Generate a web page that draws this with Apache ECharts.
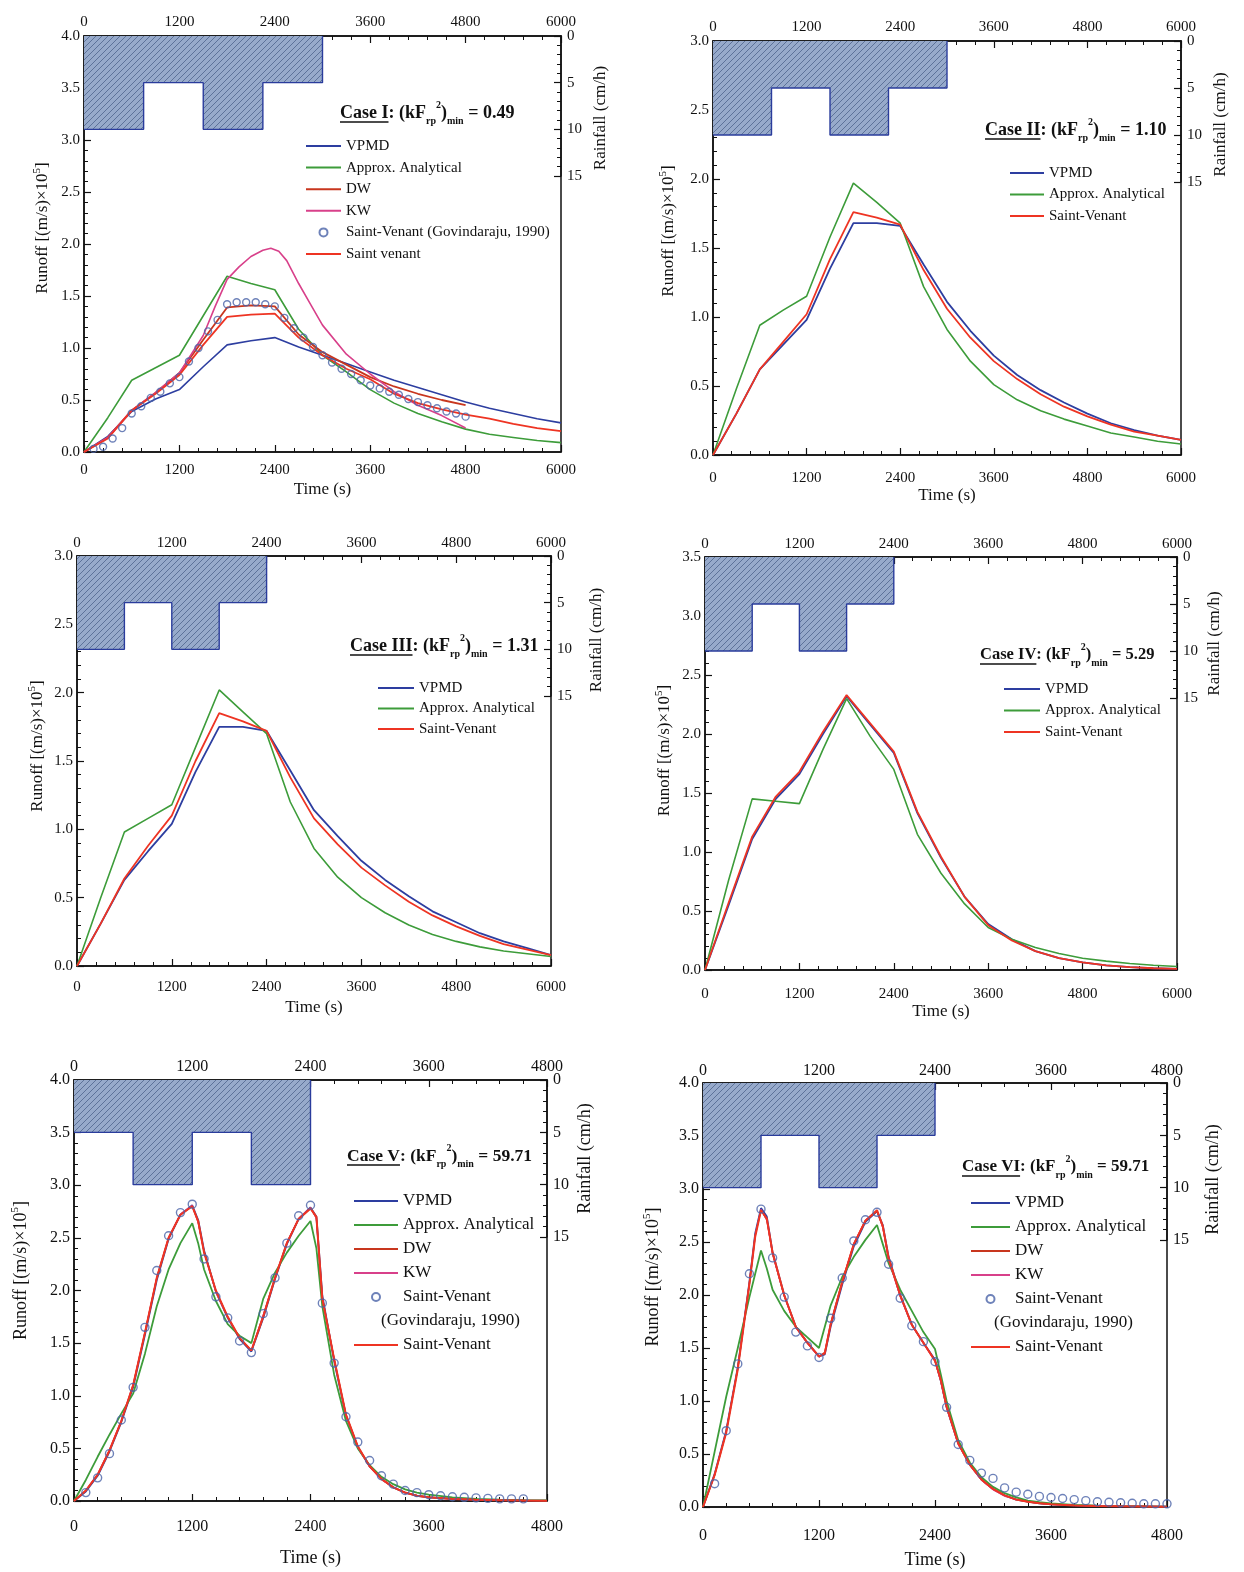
<!DOCTYPE html>
<html>
<head>
<meta charset="utf-8">
<script src="https://cdn.jsdelivr.net/npm/echarts/dist/echarts.min.js"></script>
<style>
html,body{margin:0;padding:0;background:#fff}
#chart{width:1244px;height:1572px}
</style>
</head>
<body>
<div id="chart"></div>
<script>
// ---------- rainfall hyetographs (time s, intensity cm/h; last entry closes the block) ----------
const rainTimeI   = [0, 750, 1500, 2250, 3000];
const rainRateI   = [10, 5, 10, 5, 0];
const rainTimeII  = [0, 750, 1500, 2250, 3000];
const rainRateII  = [10, 5, 10, 5, 0];
const rainTimeIII = [0, 600, 1200, 1800, 2400];
const rainRateIII = [10, 5, 10, 5, 0];
const rainTimeIV  = [0, 600, 1200, 1800, 2400];
const rainRateIV  = [10, 5, 10, 5, 0];
const rainTimeV   = [0, 600, 1200, 1800, 2400];
const rainRateV   = [5, 10, 5, 10, 0];
const rainTimeVI  = [0, 600, 1200, 1800, 2400];
const rainRateVI  = [10, 5, 10, 5, 0];

// ---------- time grids (s) ----------
const time6000 = [0,300,600,900,1200,1500,1800,2100,2400,2700,3000,3300,3600,3900,4200,4500,4800,5100,5400,5700,6000];
const time4800short = [0,300,600,900,1200,1500,1800,2100,2400,2700,3000,3300,3600,3900,4200,4500,4800];
const timeKW_I = [0,300,600,900,1200,1500,1650,1800,1950,2100,2250,2350,2450,2550,2700,2850,3000,3300,3600,3900,4200,4500,4800];
const timeV  = [0,120,240,360,480,600,720,840,960,1080,1200,1260,1320,1440,1560,1680,1800,1920,2040,2160,2280,2400,2460,2520,2640,2760,2880,3000,3120,3240,3360,3480,3600,3840,4080,4320,4560,4800];
const timeVI = [0,120,240,360,480,540,600,660,720,840,960,1080,1200,1260,1320,1440,1560,1680,1800,1860,1920,2040,2160,2280,2400,2460,2520,2640,2760,2880,3000,3120,3240,3360,3480,3600,3840,4080,4320,4560,4800];
const timeGovI  = [120,240,360,480,600,720,840,960,1080,1200,1320,1440,1560,1680,1800,1920,2040,2160,2280,2400,2520,2640,2760,2880,3000,3120,3240,3360,3480,3600,3720,3840,3960,4080,4200,4320,4440,4560,4680,4800];
const timeGovV  = [120,240,360,480,600,720,840,960,1080,1200,1320,1440,1560,1680,1800,1920,2040,2160,2280,2400,2520,2640,2760,2880,3000,3120,3240,3360,3480,3600,3720,3840,3960,4080,4200,4320,4440,4560];
const timeGovVI = [120,240,360,480,600,720,840,960,1080,1200,1320,1440,1560,1680,1800,1920,2040,2160,2280,2400,2520,2640,2760,2880,3000,3120,3240,3360,3480,3600,3720,3840,3960,4080,4200,4320,4440,4560,4680,4800];

// ---------- Case I runoff [(m/s)x10^5] ----------
const I_vpmd   = [0,0.15,0.39,0.51,0.60,0.82,1.03,1.07,1.10,1.01,0.93,0.85,0.77,0.69,0.62,0.55,0.48,0.42,0.37,0.32,0.28];
const I_approx = [0,0.33,0.69,0.81,0.93,1.31,1.69,1.62,1.56,1.18,0.93,0.77,0.60,0.47,0.37,0.29,0.22,0.17,0.14,0.11,0.09];
const I_dw     = [0,0.14,0.40,0.57,0.76,1.08,1.39,1.41,1.40,1.13,0.96,0.84,0.72,0.63,0.56,0.50,0.45];
const I_kw     = [0,0.14,0.40,0.57,0.76,1.12,1.40,1.66,1.78,1.88,1.94,1.96,1.93,1.84,1.62,1.42,1.22,0.94,0.75,0.58,0.45,0.35,0.23];
const I_gov    = [0.03,0.05,0.13,0.23,0.37,0.44,0.52,0.58,0.66,0.72,0.87,1.00,1.16,1.27,1.42,1.44,1.44,1.44,1.42,1.40,1.29,1.19,1.10,1.01,0.93,0.86,0.80,0.75,0.69,0.64,0.61,0.58,0.55,0.51,0.48,0.45,0.42,0.39,0.37,0.34];
const I_sv     = [0,0.13,0.40,0.56,0.74,1.03,1.30,1.32,1.33,1.10,0.93,0.80,0.70,0.56,0.47,0.41,0.36,0.32,0.27,0.23,0.20];

// ---------- Case II ----------
const II_vpmd   = [0,0.30,0.62,0.80,0.98,1.35,1.68,1.68,1.66,1.38,1.11,0.90,0.72,0.58,0.47,0.38,0.30,0.23,0.18,0.14,0.11];
const II_approx = [0,0.48,0.94,1.05,1.15,1.58,1.97,1.83,1.68,1.22,0.91,0.68,0.51,0.40,0.32,0.26,0.21,0.16,0.13,0.10,0.08];
const II_sv     = [0,0.30,0.62,0.82,1.02,1.42,1.76,1.72,1.67,1.34,1.06,0.85,0.68,0.55,0.44,0.35,0.28,0.22,0.17,0.14,0.11];

// ---------- Case III ----------
const III_vpmd   = [0,0.31,0.63,0.84,1.04,1.42,1.75,1.75,1.72,1.43,1.14,0.95,0.77,0.63,0.51,0.40,0.32,0.24,0.18,0.13,0.08];
const III_approx = [0,0.50,0.98,1.08,1.18,1.60,2.02,1.86,1.70,1.20,0.86,0.65,0.50,0.39,0.30,0.23,0.18,0.14,0.11,0.09,0.07];
const III_sv     = [0,0.31,0.64,0.88,1.10,1.50,1.85,1.79,1.72,1.38,1.08,0.89,0.72,0.59,0.47,0.37,0.29,0.22,0.16,0.12,0.08];

// ---------- Case IV ----------
const IV_vpmd   = [0,0.55,1.11,1.45,1.66,2.00,2.32,2.08,1.84,1.33,0.95,0.62,0.39,0.26,0.16,0.10,0.065,0.04,0.025,0.015,0.01];
const IV_approx = [0,0.76,1.45,1.43,1.41,1.87,2.30,1.98,1.70,1.15,0.82,0.56,0.36,0.26,0.19,0.14,0.10,0.075,0.055,0.04,0.03];
const IV_sv     = [0,0.57,1.13,1.47,1.68,2.02,2.33,2.09,1.85,1.34,0.96,0.62,0.38,0.25,0.16,0.10,0.065,0.04,0.025,0.015,0.01];

// ---------- Case V ----------
const V_vpmd   = [0,0.09,0.24,0.47,0.75,1.08,1.58,2.10,2.49,2.72,2.81,2.67,2.38,1.99,1.74,1.54,1.42,1.74,2.11,2.44,2.68,2.79,2.70,1.95,1.33,0.81,0.51,0.33,0.21,0.13,0.08,0.05,0.035,0.02,0.012,0.008,0.005,0.003];
const V_approx = [0,0.20,0.42,0.63,0.83,1.02,1.40,1.85,2.20,2.45,2.64,2.45,2.20,1.90,1.68,1.57,1.50,1.92,2.17,2.36,2.52,2.66,2.40,1.85,1.20,0.76,0.50,0.34,0.23,0.16,0.11,0.08,0.06,0.035,0.02,0.012,0.008,0.005];
const V_dw     = [0,0.10,0.25,0.48,0.76,1.10,1.60,2.12,2.50,2.72,2.80,2.65,2.37,1.99,1.75,1.55,1.43,1.76,2.12,2.45,2.68,2.78,2.69,1.93,1.35,0.82,0.52,0.33,0.21,0.13,0.08,0.05,0.035,0.02,0.012,0.008,0.005,0.003];
const V_kw     = [0,0.10,0.26,0.49,0.77,1.11,1.61,2.13,2.51,2.73,2.81,2.64,2.36,1.98,1.74,1.55,1.43,1.77,2.13,2.46,2.69,2.79,2.68,1.93,1.34,0.81,0.51,0.32,0.20,0.13,0.08,0.05,0.034,0.02,0.012,0.008,0.005,0.003];
const V_gov    = [0.08,0.22,0.45,0.77,1.08,1.65,2.19,2.52,2.74,2.82,2.30,1.94,1.74,1.52,1.41,1.78,2.12,2.45,2.71,2.81,1.88,1.31,0.80,0.56,0.385,0.24,0.16,0.10,0.08,0.06,0.05,0.04,0.035,0.03,0.025,0.02,0.02,0.02];
const V_sv     = [0,0.10,0.25,0.48,0.76,1.10,1.60,2.12,2.50,2.72,2.80,2.66,2.36,2.00,1.75,1.55,1.43,1.75,2.12,2.45,2.68,2.78,2.70,1.92,1.35,0.82,0.52,0.33,0.21,0.13,0.08,0.05,0.035,0.02,0.012,0.008,0.005,0.003];

// ---------- Case VI ----------
const VI_vpmd   = [0,0.31,0.72,1.32,2.12,2.58,2.82,2.74,2.40,2.00,1.70,1.55,1.42,1.44,1.70,2.10,2.46,2.69,2.79,2.66,2.36,2.00,1.72,1.55,1.39,1.19,0.94,0.60,0.40,0.26,0.17,0.11,0.07,0.05,0.035,0.025,0.015,0.01,0.007,0.005,0.003];
const VI_approx = [0,0.52,1.04,1.50,1.98,2.20,2.42,2.25,2.05,1.85,1.70,1.60,1.50,1.70,1.90,2.17,2.36,2.52,2.66,2.48,2.30,2.05,1.85,1.65,1.49,1.25,1.00,0.63,0.42,0.28,0.19,0.13,0.09,0.06,0.045,0.035,0.02,0.013,0.009,0.006,0.004];
const VI_dw     = [0,0.30,0.71,1.31,2.11,2.56,2.80,2.71,2.39,1.99,1.70,1.55,1.42,1.46,1.73,2.13,2.48,2.70,2.79,2.64,2.34,1.99,1.72,1.55,1.38,1.19,0.94,0.60,0.40,0.26,0.17,0.11,0.07,0.05,0.035,0.025,0.015,0.01,0.007,0.005,0.003];
const VI_kw     = [0,0.31,0.71,1.32,2.12,2.57,2.81,2.70,2.38,1.99,1.69,1.54,1.41,1.46,1.73,2.13,2.49,2.71,2.80,2.63,2.33,1.98,1.71,1.54,1.37,1.18,0.93,0.59,0.39,0.25,0.16,0.10,0.07,0.05,0.034,0.024,0.015,0.01,0.007,0.005,0.003];
const VI_gov    = [0.22,0.72,1.35,2.20,2.81,2.35,1.98,1.65,1.52,1.41,1.78,2.16,2.51,2.71,2.78,2.29,1.97,1.71,1.56,1.37,0.94,0.59,0.44,0.32,0.27,0.18,0.14,0.12,0.10,0.09,0.08,0.07,0.06,0.05,0.045,0.04,0.035,0.03,0.03,0.03];
const VI_sv     = [0,0.30,0.70,1.30,2.10,2.55,2.80,2.72,2.40,2.00,1.70,1.55,1.42,1.45,1.72,2.12,2.48,2.70,2.80,2.65,2.35,2.00,1.72,1.55,1.38,1.20,0.95,0.60,0.40,0.26,0.17,0.11,0.07,0.05,0.035,0.025,0.015,0.01,0.007,0.005,0.003];

// ---------- names / labels ----------
const caseNames = ['Case I', 'Case II', 'Case III', 'Case IV', 'Case V', 'Case VI'];
const caseValues = ['0.49', '1.10', '1.31', '5.29', '59.71', '59.71'];
const N_VPMD = 'VPMD', N_APP = 'Approx. Analytical', N_DW = 'DW', N_KW = 'KW';
const N_GOV = 'Saint-Venant (Govindaraju, 1990)', N_SV = 'Saint-Venant', N_SV1 = 'Saint venant';

const COL = { vpmd: '#2d3ea0', app: '#3d9c3a', dw: '#c8361e', kw: '#d8408a', sv: '#ee3423', gov: '#4a63a8', ink: '#111' };
const FONT = '"Liberation Serif", "Times New Roman", serif';

// hatched fill for the rainfall blocks
function hatchPattern() {
  const c = document.createElement('canvas');
  c.width = 6; c.height = 6;
  const g = c.getContext('2d');
  g.fillStyle = '#97aacb'; g.fillRect(0, 0, 6, 6);
  g.strokeStyle = '#5d7299'; g.lineWidth = 1;
  g.beginPath();
  g.moveTo(0, 6); g.lineTo(6, 0);
  g.moveTo(-3, 3); g.lineTo(3, -3);
  g.moveTo(3, 9); g.lineTo(9, 3);
  g.stroke();
  return c;
}
const HATCH = hatchPattern();

// panel layout (pixels)
const panels = [
  { left: 84,  top: 36,   width: 477, height: 416, rainH: 140, tMax: 6000, yMax: 4,   fs: 15, nfs: 17, bm: 11, tm: 6, tg: 29, lg: 30, lsh: 32, rg: 31, rsh: 24 },
  { left: 713, top: 41,   width: 468, height: 414, rainH: 141, tMax: 6000, yMax: 3,   fs: 15, nfs: 17, bm: 16, tm: 6, tg: 31, lg: 33, lsh: 34, rg: 31, rsh: 26 },
  { left: 77,  top: 556,  width: 474, height: 410, rainH: 140, tMax: 6000, yMax: 3,   fs: 15, nfs: 17, bm: 14, tm: 5, tg: 33, lg: 28, lsh: 30, rg: 37, rsh: 28 },
  { left: 705, top: 557,  width: 472, height: 413, rainH: 141, tMax: 6000, yMax: 3.5, fs: 15, nfs: 17, bm: 17, tm: 5, tg: 33, lg: 29, lsh: 26, rg: 29, rsh: 32 },
  { left: 74,  top: 1080, width: 473, height: 421, rainH: 157, tMax: 4800, yMax: 4,   fs: 16, nfs: 18, bm: 18, tm: 5, tg: 48, lg: 42, lsh: 40, rg: 29, rsh: 0 },
  { left: 703, top: 1083, width: 464, height: 424, rainH: 157, tMax: 4800, yMax: 4,   fs: 16, nfs: 18, bm: 21, tm: 4, tg: 44, lg: 39, lsh: 36, rg: 37, rsh: 36 }
];

const rainData = [
  [rainTimeI, rainRateI], [rainTimeII, rainRateII], [rainTimeIII, rainRateIII],
  [rainTimeIV, rainRateIV], [rainTimeV, rainRateV], [rainTimeVI, rainRateVI]
];

// curves per panel: [name, times, values, color, width, kind]
const curves = [
  [[N_VPMD, time6000, I_vpmd, COL.vpmd, 1.6], [N_APP, time6000, I_approx, COL.app, 1.6],
   [N_DW, time4800short, I_dw, COL.dw, 1.8], [N_KW, timeKW_I, I_kw, COL.kw, 1.6],
   [N_GOV, timeGovI, I_gov, COL.gov, 0, 'gov'], [N_SV1, time6000, I_sv, COL.sv, 1.8]],
  [[N_VPMD, time6000, II_vpmd, COL.vpmd, 1.8], [N_APP, time6000, II_approx, COL.app, 1.6], [N_SV, time6000, II_sv, COL.sv, 1.8]],
  [[N_VPMD, time6000, III_vpmd, COL.vpmd, 1.8], [N_APP, time6000, III_approx, COL.app, 1.6], [N_SV, time6000, III_sv, COL.sv, 1.8]],
  [[N_VPMD, time6000, IV_vpmd, COL.vpmd, 1.8], [N_APP, time6000, IV_approx, COL.app, 1.6], [N_SV, time6000, IV_sv, COL.sv, 1.8]],
  [[N_VPMD, timeV, V_vpmd, COL.vpmd, 1.8], [N_APP, timeV, V_approx, COL.app, 1.8],
   [N_DW, timeV, V_dw, COL.dw, 1.4], [N_KW, timeV, V_kw, COL.kw, 1.0],
   [N_GOV, timeGovV, V_gov, COL.gov, 0, 'gov'], [N_SV, timeV, V_sv, COL.sv, 2.0]],
  [[N_VPMD, timeVI, VI_vpmd, COL.vpmd, 1.8], [N_APP, timeVI, VI_approx, COL.app, 1.8],
   [N_DW, timeVI, VI_dw, COL.dw, 1.4], [N_KW, timeVI, VI_kw, COL.kw, 1.0],
   [N_GOV, timeGovVI, VI_gov, COL.gov, 0, 'gov'], [N_SV, timeVI, VI_sv, COL.sv, 2.0]]
];

// legend placement: [left, top, itemWidth, fontSize, rowPitch]
const legendPos = [
  [305, 138, 35, 15, 21.6], [1009, 165, 34, 15, 21.5], [377, 680, 36, 15, 20.5],
  [1003, 681, 36, 15, 21.5], [353, 1192, 44, 17, 24], [970, 1194, 39, 17, 24]
];
// case label anchor: [left, centerY, fontSize]
const casePos = [[340, 113, 18], [985, 130, 18], [350, 646, 18], [980, 655, 16.5], [347, 1156, 17.5], [962, 1167, 17]];

function zip(t, v) { return t.map((x, i) => [x, v[i]]); }

const measureCtx = document.createElement('canvas').getContext('2d');
function textWidth(s, size, weight) {
  measureCtx.font = (weight || 'normal') + ' ' + size + 'px ' + FONT;
  return measureCtx.measureText(s).width;
}

// legend entries: plain line swatches for curves, hollow circle for the reference data
function legendItems(names) {
  return names.map(n => n === N_GOV
    ? { name: n }
    : { name: n, itemStyle: { opacity: 0, color: 'rgba(0,0,0,0)', borderColor: 'rgba(0,0,0,0)', borderWidth: 0 } });
}

const grid = [], xAxis = [], yAxis = [], series = [], legend = [], graphic = [];

panels.forEach((P, p) => {
  grid.push({ left: P.left, top: P.top, width: P.width, height: P.height, show: true,
              borderColor: COL.ink, borderWidth: 1.5, backgroundColor: 'transparent',
              containLabel: false, outerBoundsMode: 'none' });
  grid.push({ left: P.left, top: P.top, width: P.width, height: P.rainH, show: false,
              containLabel: false, outerBoundsMode: 'none' });

  const tick = { show: true, inside: true, length: 7, lineStyle: { color: COL.ink, width: 1.2 } };
  const minor = { show: true, splitNumber: 5, length: 4, lineStyle: { color: COL.ink, width: 1 } };
  const line = { show: true, onZero: false, lineStyle: { color: COL.ink, width: 1.5 } };
  const lbl = (margin, fmt) => ({ show: true, margin, fontFamily: FONT, fontSize: P.fs, color: COL.ink,
                                  showMinLabel: true, showMaxLabel: true, formatter: fmt, hideOverlap: false });
  const nameStyle = { fontFamily: FONT, fontSize: P.nfs, color: COL.ink };

  // bottom time axis
  xAxis.push({ gridIndex: 2 * p, type: 'value', position: 'bottom', min: 0, max: P.tMax, interval: 1200,
               axisLine: line, axisTick: tick, minorTick: minor, splitLine: { show: false },
               axisLabel: lbl(P.bm, v => String(v)),
               name: 'Time (s)', nameLocation: 'middle', nameGap: P.tg, nameTextStyle: nameStyle });
  // top time axis
  xAxis.push({ gridIndex: 2 * p, type: 'value', position: 'top', min: 0, max: P.tMax, interval: 1200,
               axisLine: line, axisTick: tick, minorTick: minor, splitLine: { show: false },
               axisLabel: lbl(P.tm, v => String(v)) });
  // time axis for the hyetograph
  xAxis.push({ gridIndex: 2 * p + 1, type: 'value', min: 0, max: P.tMax, show: false });

  // runoff axis
  yAxis.push({ gridIndex: 2 * p, type: 'value', position: 'left', min: 0, max: P.yMax, interval: 0.5,
               axisLine: line, axisTick: tick, minorTick: minor, splitLine: { show: false },
               axisLabel: lbl(4, v => v.toFixed(1)),
               name: 'Runoff [(m/s)×10{s|5}]', nameLocation: 'middle', nameRotate: 90, nameGap: P.lg,
               nameTextStyle: { fontFamily: FONT, fontSize: P.nfs, color: COL.ink, lineHeight: 22,
                                padding: [0, 0, 0, P.lsh],
                                rich: { s: { fontFamily: FONT, fontSize: 11, color: COL.ink, verticalAlign: 'top', lineHeight: 12 } } } });
  // rainfall axis (inverted)
  yAxis.push({ gridIndex: 2 * p + 1, type: 'value', position: 'right', inverse: true, min: 0, max: 15, interval: 5,
               axisLine: line, axisTick: tick, minorTick: minor, splitLine: { show: false },
               axisLabel: lbl(6, v => String(v)),
               name: 'Rainfall (cm/h)', nameLocation: 'middle', nameRotate: 90, nameGap: P.rg,
               nameTextStyle: { fontFamily: FONT, fontSize: P.nfs, color: COL.ink, padding: [0, P.rsh, 0, 0] } });

  // hyetograph
  series.push({ type: 'line', name: 'rain' + p, xAxisIndex: 3 * p + 2, yAxisIndex: 2 * p + 1,
                data: zip(rainData[p][0], rainData[p][1]), step: 'end', symbol: 'none',
                lineStyle: { color: '#2a3c9c', width: 1.4 },
                areaStyle: { origin: 'start', opacity: 1, color: { image: HATCH, repeat: 'repeat' } },
                z: 1, silent: true, animation: false });

  // runoff curves
  curves[p].forEach(c => {
    const [name, t, v, color, w, kind] = c;
    if (kind === 'gov') {
      series.push({ type: 'scatter', name, xAxisIndex: 3 * p, yAxisIndex: 2 * p, data: zip(t, v),
                    symbol: 'circle', symbolSize: p >= 4 ? 8 : 7,
                    itemStyle: { color: 'rgba(255,255,255,0)', borderColor: color, borderWidth: 1.4 },
                    z: 6, animation: false });
    } else {
      series.push({ type: 'line', name, xAxisIndex: 3 * p, yAxisIndex: 2 * p, data: zip(t, v),
                    symbol: 'none', smooth: false, lineStyle: { color, width: w }, itemStyle: { color },
                    z: name === N_SV || name === N_SV1 ? 5 : 4, animation: false });
    }
  });

  // legend
  const [lx, ly, iw, lfs, pitch] = legendPos[p];
  const lh = lfs + 1;
  const names = curves[p].map(c => c[0]);
  const legendBase = { orient: 'vertical', left: lx, itemWidth: iw, itemHeight: 8, itemGap: pitch - lh,
                       selectedMode: false, padding: 0,
                       textStyle: { fontFamily: FONT, fontSize: lfs, color: COL.ink, lineHeight: lh } };
  if (p >= 4) {
    // two-line entry for the reference data: split across two legend blocks
    legend.push(Object.assign({}, legendBase, { top: ly, data: legendItems(names.slice(0, 5)),
      formatter: n => (n === N_GOV ? 'Saint-Venant' : n) }));
    legend.push(Object.assign({}, legendBase, { top: ly + pitch * 6, data: legendItems([N_SV]) }));
    graphic.push({ type: 'text', x: lx + (p === 4 ? 28 : 24), y: ly + lh / 2 + pitch * 5,
                   style: { text: '(Govindaraju, 1990)', fontFamily: FONT, fontSize: lfs, fill: COL.ink,
                            align: 'left', verticalAlign: 'middle', textAlign: 'left', textVerticalAlign: 'middle' } });
  } else {
    legend.push(Object.assign({}, legendBase, { top: ly, data: legendItems(names) }));
  }

  // case label with underline
  const [cx, cy, cfs] = casePos[p];
  const sub = { fontFamily: FONT, fontSize: 10, fontWeight: 'bold', fill: COL.ink, color: COL.ink, verticalAlign: 'bottom', lineHeight: 12 };
  const sup = { fontFamily: FONT, fontSize: 10, fontWeight: 'bold', fill: COL.ink, color: COL.ink, verticalAlign: 'top', lineHeight: 12 };
  const main = { fontFamily: FONT, fontSize: cfs, fontWeight: 'bold', fill: COL.ink, color: COL.ink, lineHeight: 26, verticalAlign: 'middle' };
  graphic.push({ type: 'text', x: cx, y: cy, z: 10,
                 style: { text: '{m|' + caseNames[p] + '}{m|: (kF}{b|rp}{t|2}{m|)}{b|min}{m| = ' + caseValues[p] + '}',
                          rich: { m: main, b: sub, t: sup },
                          fontFamily: FONT, fontSize: cfs, fontWeight: 'bold', fill: COL.ink,
                          align: 'left', verticalAlign: 'middle', textAlign: 'left', textVerticalAlign: 'middle' } });
  const uw = textWidth(caseNames[p], cfs, 'bold');
  graphic.push({ type: 'line', z: 10, shape: { x1: cx, y1: cy + 9, x2: cx + uw, y2: cy + 9 },
                 style: { stroke: COL.ink, lineWidth: 1.3 } });
});

const chart = echarts.init(document.getElementById('chart'), null, { renderer: 'canvas', width: 1244, height: 1572 });
chart.setOption({
  animation: false,
  backgroundColor: '#ffffff',
  textStyle: { fontFamily: FONT },
  grid, xAxis, yAxis, series, legend, graphic
});
</script>
</body>
</html>
